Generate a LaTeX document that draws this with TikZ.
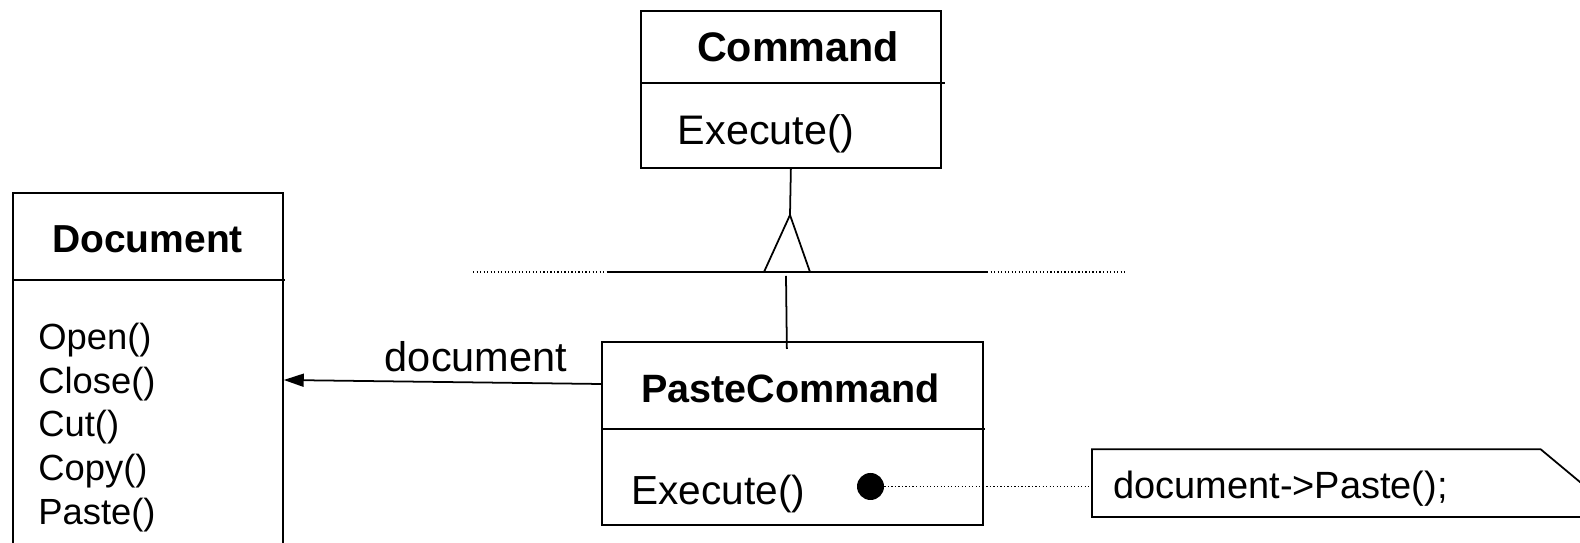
\documentclass[tikz,border=0pt]{standalone}
\usepackage{fontspec}
\setmainfont{Liberation Sans}
\usetikzlibrary{arrows.meta}

\begin{document}
\begin{tikzpicture}[
    classbox/.style={
        rectangle,
        draw=black,
        line width=1pt,
        anchor=north west,
        inner sep=0pt
    },
    classname/.style={
        font=\fontsize{#1}{#1}\selectfont\bfseries,
        inner sep=0pt
    },
    oplist/.style={
        font=\fontsize{#1}{24.9}\selectfont,
        anchor=west,
        align=left,
        inner sep=0pt
    },
    divider/.style={line width=1pt},
    dots/.style={line width=0.7pt, dash pattern=on 0.7pt off 1.3pt},
    >={Triangle[length=0.4cm,width=0.26cm]}
]
    \useasboundingbox (0,0) rectangle (31.6,10.86);
    \clip (0,0) rectangle (31.6,10.86);

    % Command (top)
    \node[classbox, minimum width=6cm, minimum height=3.14cm] (command) at (12.8,10.66) {};
    \node[classname=23.5] (commandname) at (15.96,9.92) {Command};
    \node[oplist=23.5] (commandop) at (13.55,8.18) {Execute()};
    \draw[divider] (12.8,9.2) -- (18.9,9.2);

    % Document (left)
    \node[classbox, minimum width=5.4cm, minimum height=8cm] (doc) at (0.24,7.02) {};
    \node[classname=22.2] (docname) at (2.95,6.08) {Document};
    \node[oplist=20.7] (docops) at (0.76,2.31) {Open()\\Close()\\Cut()\\Copy()\\Paste()};
    \draw[divider] (0.24,5.26) -- (5.7,5.26);

    % PasteCommand (bottom)
    \node[classbox, minimum width=7.62cm, minimum height=3.66cm] (paste) at (12.02,4.04) {};
    \node[classname=22.5] (pastename) at (15.81,3.1) {PasteCommand};
    \node[oplist=23.1] (pasteop) at (12.62,0.98) {Execute()};
    \draw[divider] (12.02,2.28) -- (19.7,2.28);
    \node[circle, fill=black, minimum size=0.54cm, inner sep=0pt] (dot) at (17.41,1.13) {};

    % note
    \node[rectangle, minimum width=10.16cm, minimum height=1.34cm, anchor=south west, inner sep=0pt] (note) at (21.84,0.52) {};
    \draw[line width=1pt] (note.north west) -- ([xshift=-1.2cm]note.north east)
        -- ([yshift=-1cm]note.north east) -- (note.south east) -- (note.south west) -- cycle;
    \node[font=\fontsize{21.6}{26}\selectfont, anchor=west, inner sep=0pt] (notetext) at (22.26,1.08) {document->Paste();};
    \draw[dots] (dot.east) -- (note.west |- dot.east);

    % inheritance
    \coordinate (apex) at (15.8,6.56);
    \draw[divider] (command.south) -- (apex);
    \draw[divider] (apex) -- (15.28,5.42) -- (16.2,5.42) -- cycle;
    \draw[divider] (12.16,5.42) -- (19.74,5.42);
    \draw[dots] (9.46,5.42) -- (12.16,5.42);
    \draw[dots] (19.74,5.42) -- (22.54,5.42);
    \draw[divider] (15.72,5.34) -- ([xshift=-0.11cm, yshift=-0.16cm]paste.north);

    % association
    \draw[->, line width=1pt] ([yshift=-0.86cm]paste.north west) -- ([yshift=-3.76cm]doc.north east);
    \node[font=\fontsize{23.6}{28}\selectfont, inner sep=0pt] (assoclabel) at (9.52,3.72) {document};

\end{tikzpicture}
\end{document}
